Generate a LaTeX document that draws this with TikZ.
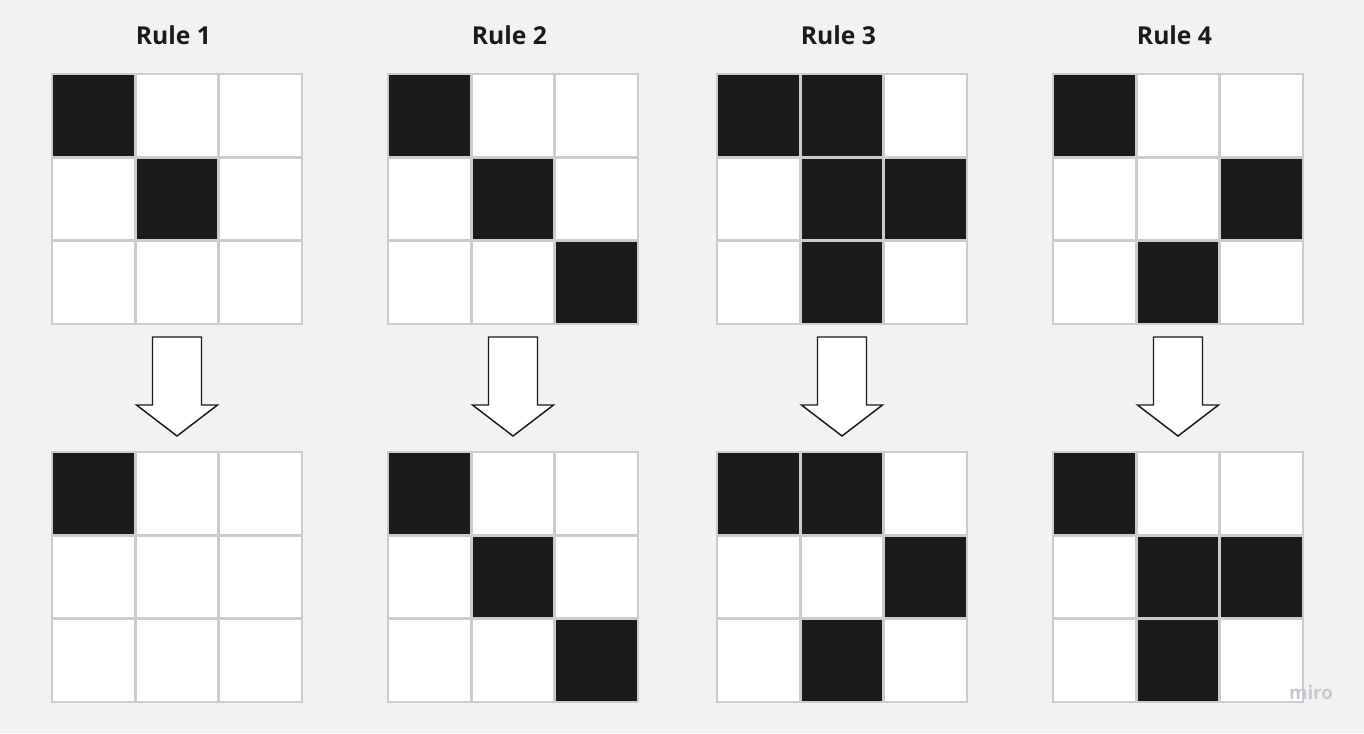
\documentclass[tikz,border=0pt]{standalone}
\usepackage{fontspec}
\setmainfont{Open Sans}
\definecolor{paper}{HTML}{F2F2F2}
\definecolor{ink}{HTML}{1B1B1B}
\definecolor{rim}{HTML}{CCCCCC}
\definecolor{mark}{HTML}{C8C8D0}
\tikzset{
  title/.style={font=\bfseries\fontsize{18.5}{20}\selectfont, text=ink},
  cell/.style={draw=rim, line width=1.8pt, fill=white},
  blackcell/.style={cell, fill=ink},
  blockarrow/.style={draw=ink, line width=1.1pt, fill=white, line join=miter}
}
\begin{document}
\begin{tikzpicture}[x=0.75pt,y=-0.75pt]

%background and page size
\fill[paper] (0,0) rectangle (1364,733);
\useasboundingbox (0,0) rectangle (1364,733);

%one column per rule: title, grid before, arrow, grid after
\foreach \gx/\n/\before/\after in {
  52/1/{0/0,1/1}/{0/0},
  388/2/{0/0,1/1,2/2}/{0/0,1/1,2/2},
  717/3/{0/0,0/1,1/1,1/2,2/1}/{0/0,0/1,1/2,2/1},
  1053/4/{0/0,1/2,2/1}/{0/0,1/1,1/2,2/1}}
{
  \node[title] (rule\n) at (\gx+121.5,35) {Rule \n};

  %white cells of both grids
  \foreach \gy in {74,452}
    \foreach \r in {0,1,2}
      \foreach \c in {0,1,2}
        \draw[cell] (\gx+\c*83.33,\gy+\r*83.33) rectangle ++(83.33,83.33);

  %black cells
  \foreach \r/\c in \before \draw[blackcell] (\gx+\c*83.33,74+\r*83.33) rectangle ++(83.33,83.33);
  \foreach \r/\c in \after \draw[blackcell] (\gx+\c*83.33,452+\r*83.33) rectangle ++(83.33,83.33);

  %down arrow
  \coordinate (tip\n) at (\gx+125,436);
  \draw[blockarrow] (\gx+100.5,337) -- (\gx+149.5,337) -- (\gx+149.5,405) -- (\gx+165.5,405)
    -- (tip\n) -- (\gx+84.5,405) -- (\gx+100.5,405) -- cycle;
}

\node[text=mark, font=\fontseries{sb}\fontsize{14}{16}\selectfont] (miro) at (1311,692) {miro};

\end{tikzpicture}
\end{document}
